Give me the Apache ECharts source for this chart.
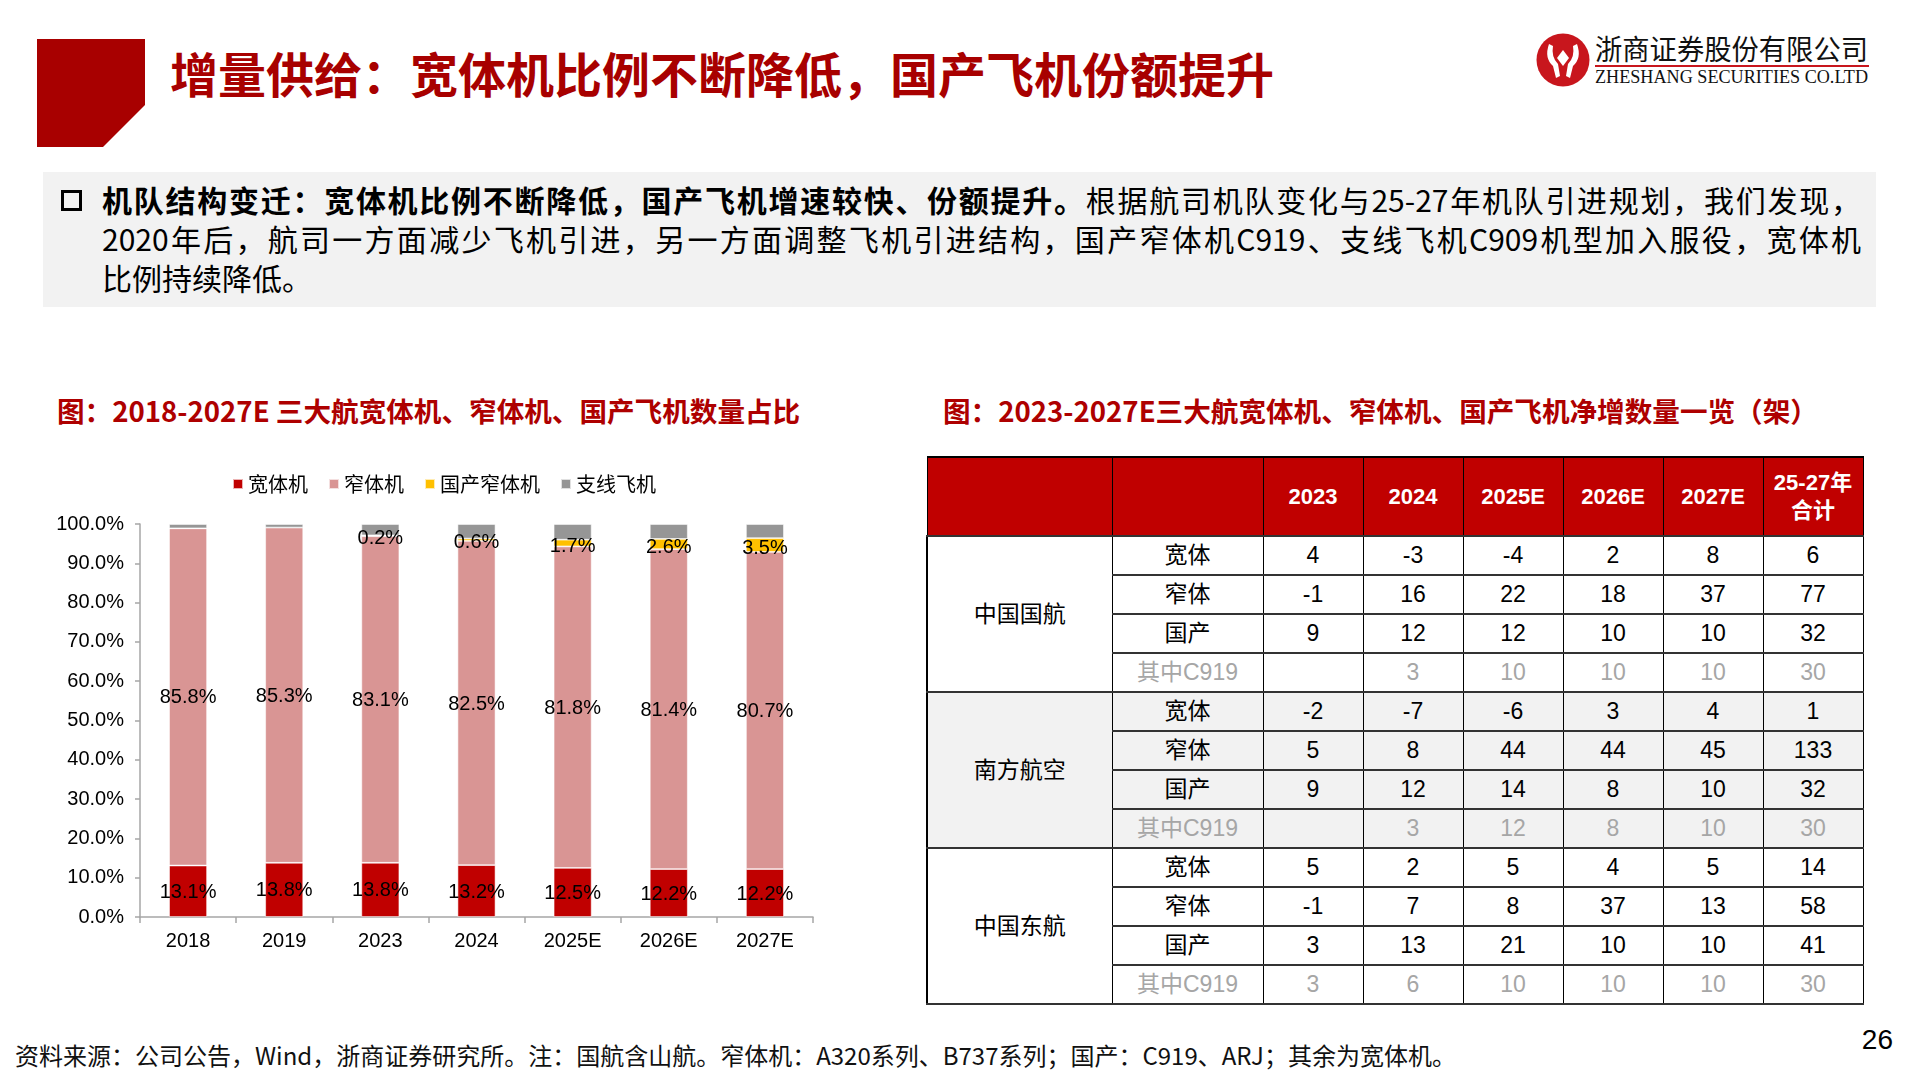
<!DOCTYPE html>
<html>
<head>
<meta charset="utf-8">
<script src="https://cdn.jsdelivr.net/npm/echarts/dist/echarts.min.js"></script>
<style>
  html, body { margin:0; padding:0; }
  body { width:1920px; height:1080px; position:relative; background:#fff; overflow:hidden;
         font-family:'Noto Sans CJK SC', sans-serif; color:#000; }
  .abs { position:absolute; }
  #title { left:170px; top:44px; font-size:48px; font-weight:bold; color:#A80000; line-height:56px; white-space:nowrap; }
  #box { left:43px; top:172px; width:1833px; height:135px; background:#F2F2F2; }
  #bullet { left:61px; top:190px; width:15px; height:15px; border:3.5px solid #000; }
  #para { left:102px; top:180px; width:1759px; font-size:30px; line-height:39px; }
  #para div { text-align:justify; text-align-last:justify; text-justify:inter-character; white-space:nowrap; }
  #para div.last { text-align-last:left; }
  .ctitle { top:391px; font-size:27.6px; font-weight:bold; color:#AE0000; line-height:38px; white-space:nowrap; }
  #footer { left:15px; top:1038px; font-size:24px; line-height:34px; white-space:nowrap; color:#111; }
  #page { left:1861px; top:1023px; width:32px; text-align:right; font-family:'Liberation Sans', sans-serif; font-size:28px; line-height:34px; }
  #tbl { left:926px; top:456px; border-collapse:collapse; table-layout:fixed; width:936px;
         font-family:'Liberation Sans','Noto Sans CJK SC', sans-serif; font-size:23px; }
  #tbl th { background:#C00000; color:#fff; font-weight:bold; height:77px; border:1px solid #000; border-top:2px solid #000;
            font-size:22px; line-height:28px; padding:0; text-align:center; }
  #tbl td { height:37px; border-left:1px solid #000; border-right:1px solid #000; border-top:2px solid #333; border-bottom:2px solid #333;
            text-align:center; padding:0; line-height:37px; }
  #tbl td.grp { border-left:2px solid #000; }
  #tbl tr.c919 td.v { color:#A6A6A6; }
  #chart { left:0; top:0; width:1920px; height:1080px; }
</style>
</head>
<body>
<svg class="abs" style="left:0;top:0" width="1920" height="160">
  <polygon points="37,39 145,39 145,105 103,147 37,147" fill="#A80000"/>
  <circle cx="1563" cy="60" r="26.5" fill="#C8161D"/>
  <path d="M1549,44 Q1544,58 1553,66 L1556,78 L1560,76 L1558,64 Q1551,57 1553,46 Z" fill="#fff"/>
  <path d="M1577,44 Q1582,58 1573,66 L1570,78 L1566,76 L1568,64 Q1575,57 1573,46 Z" fill="#fff"/>
  <path d="M1563,50 L1569,58 L1563,66 L1557,58 Z" fill="#fff"/>
  <text x="1595" y="60" font-family="Noto Sans CJK SC" font-size="28" textLength="273" lengthAdjust="spacingAndGlyphs" fill="#111">浙商证券股份有限公司</text>
  <rect x="1595" y="65" width="274" height="2" fill="#C8161D"/>
  <text x="1595" y="83" font-family="Liberation Serif" font-size="19" textLength="273" lengthAdjust="spacingAndGlyphs" fill="#111">ZHESHANG SECURITIES CO.LTD</text>
</svg>
<div id="title" class="abs">增量供给：宽体机比例不断降低，国产飞机份额提升</div>
<div id="box" class="abs"></div>
<div id="bullet" class="abs"></div>
<div id="para" class="abs">
  <div><b>机队结构变迁：宽体机比例不断降低，国产飞机增速较快、份额提升。</b>根据航司机队变化与25-27年机队引进规划，我们发现，</div>
  <div>2020年后，航司一方面减少飞机引进，另一方面调整飞机引进结构，国产窄体机C919、支线飞机C909机型加入服役，宽体机</div>
  <div class="last">比例持续降低。</div>
</div>
<div class="abs ctitle" style="left:57px">图：2018-2027E 三大航宽体机、窄体机、国产飞机数量占比</div>
<div class="abs ctitle" style="left:943px">图：2023-2027E三大航宽体机、窄体机、国产飞机净增数量一览（架）</div>
<table id="tbl" class="abs"></table>
<div id="footer" class="abs">资料来源：公司公告，Wind，浙商证券研究所。注：国航含山航。窄体机：A320系列、B737系列；国产：C919、ARJ；其余为宽体机。</div>
<div id="page" class="abs">26</div>
<div id="chart" class="abs"></div>
<script>
// ---- Bar chart data ----
const categories = ['2018', '2019', '2023', '2024', '2025E', '2026E', '2027E'];
const wideBody = [13.1, 13.8, 13.8, 13.2, 12.5, 12.2, 12.2];
const narrowBody = [85.8, 85.3, 83.1, 82.5, 81.8, 81.4, 80.7];
const domesticNarrow = [0, 0, 0.2, 0.6, 1.7, 2.6, 3.5];
const regionalJet = [1.1, 0.9, 2.9, 3.7, 4.0, 3.8, 3.6];
const seriesNames = ['宽体机', '窄体机', '国产窄体机', '支线飞机'];

// ---- Table data ----
const tableYears = ['2023', '2024', '2025E', '2026E', '2027E', '25-27年\n合计'];
const airlineNames = ['中国国航', '南方航空', '中国东航'];
const rowLabels = ['宽体', '窄体', '国产', '其中C919'];
const caWide = [4, -3, -4, 2, 8, 6];
const caNarrow = [-1, 16, 22, 18, 37, 77];
const caDomestic = [9, 12, 12, 10, 10, 32];
const caC919 = [null, 3, 10, 10, 10, 30];
const csWide = [-2, -7, -6, 3, 4, 1];
const csNarrow = [5, 8, 44, 44, 45, 133];
const csDomestic = [9, 12, 14, 8, 10, 32];
const csC919 = [null, 3, 12, 8, 10, 30];
const ceWide = [5, 2, 5, 4, 5, 14];
const ceNarrow = [-1, 7, 8, 37, 13, 58];
const ceDomestic = [3, 13, 21, 10, 10, 41];
const ceC919 = [3, 6, 10, 10, 10, 30];

// build table
(function () {
  const groups = [
    [caWide, caNarrow, caDomestic, caC919],
    [csWide, csNarrow, csDomestic, csC919],
    [ceWide, ceNarrow, ceDomestic, ceC919]
  ];
  const widths = [185, 151, 100, 100, 100, 100, 100, 100];
  let html = '<colgroup>' + widths.map(w => '<col style="width:' + w + 'px">').join('') + '</colgroup>';
  html += '<tr><th></th><th></th>' + tableYears.map(y => '<th>' + y.replace('\n', '<br>') + '</th>').join('') + '</tr>';
  groups.forEach((rows, gi) => {
    const bg = gi === 1 ? '#F2F2F2' : '#FFFFFF';
    rows.forEach((vals, ri) => {
      html += '<tr class="' + (ri === 3 ? 'c919' : '') + '" style="background:' + bg + '">';
      if (ri === 0) html += '<td class="grp" rowspan="4" style="background:' + bg + '">' + airlineNames[gi] + '</td>';
      html += '<td class="v">' + rowLabels[ri] + '</td>';
      html += vals.map(v => '<td class="v">' + (v === null ? '' : v) + '</td>').join('');
      html += '</tr>';
    });
  });
  document.getElementById('tbl').innerHTML = html;
})();

// chart
const chart = echarts.init(document.getElementById('chart'), null, { renderer: 'canvas' });
const pct = v => v.toFixed(1) + '%';
const labelBase = { show: true, position: 'inside', color: '#000', fontSize: 20, fontFamily: 'Liberation Sans' };
const colors = ['#C00000', '#D99594', '#FFC000', '#969696'];
const dataSets = [wideBody, narrowBody, domesticNarrow, regionalJet];
chart.setOption({
  animation: false,
  textStyle: { fontFamily: 'Liberation Sans' },
  legend: {
    left: 232, top: 474, padding: 0, itemWidth: 10, itemHeight: 10, itemGap: 20, icon: 'rect',
    data: seriesNames,
    textStyle: { fontSize: 20, color: '#000', fontFamily: 'Noto Sans CJK SC' }
  },
  grid: { left: 140, top: 524, width: 673, height: 393, containLabel: false },
  xAxis: {
    type: 'category', data: categories,
    axisLine: { lineStyle: { color: '#A6A6A6', width: 1.5 } },
    axisTick: { show: true, length: 6, lineStyle: { color: '#A6A6A6', width: 1.5 } },
    axisLabel: { fontSize: 20, color: '#000', margin: 14, fontFamily: 'Liberation Sans' }
  },
  yAxis: {
    type: 'value', min: 0, max: 100, interval: 10,
    splitLine: { show: false },
    axisLine: { show: true, lineStyle: { color: '#A6A6A6', width: 1.5 } },
    axisTick: { show: true, length: 5, lineStyle: { color: '#A6A6A6', width: 1.5 } },
    axisLabel: { fontSize: 20, color: '#000', margin: 16, formatter: v => pct(v), fontFamily: 'Liberation Sans' }
  },
  series: dataSets.map((d, i) => ({
    name: seriesNames[i], type: 'bar', stack: 'total', barWidth: 38, data: d,
    itemStyle: { color: colors[i], borderColor: 'rgba(255,255,255,0.7)', borderWidth: 0.8 },
    label: i === 3 ? { show: false } : Object.assign({}, labelBase, {
      offset: i === 2 ? [0, 3] : [0, 1],
      formatter: p => (p.value > 0 ? pct(p.value) : '')
    })
  }))
});
</script>
</body>
</html>
